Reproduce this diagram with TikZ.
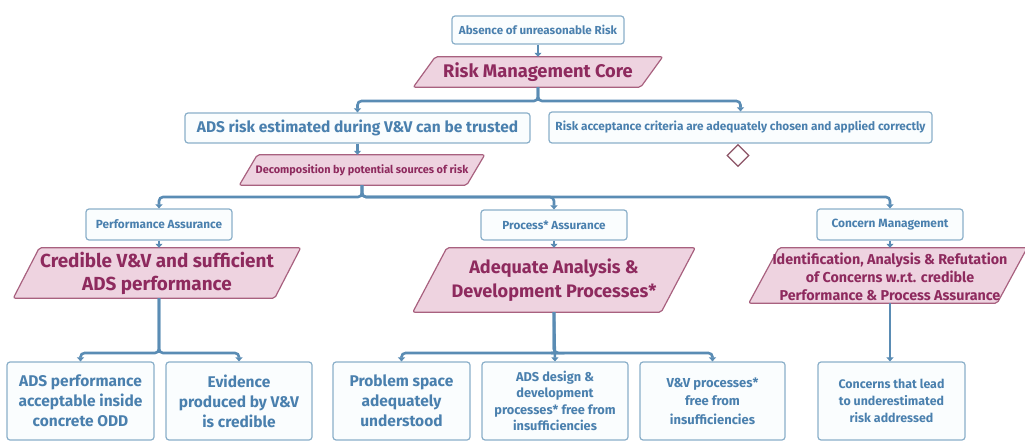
\documentclass[tikz,border=0pt]{standalone}
\usepackage{fontspec}
\setmainfont{Fira Sans}
\usetikzlibrary{arrows.meta,shapes.geometric}
\definecolor{bxborder}{HTML}{8AAFC9}
\definecolor{bxtext}{HTML}{4A80AE}
\definecolor{bxfill}{HTML}{FAFDFE}
\definecolor{pgfillc}{HTML}{EED3E0}
\definecolor{pgborder}{HTML}{A8617F}
\definecolor{pgtext}{HTML}{8E2A5E}
\definecolor{conn}{HTML}{5A8CB4}
\definecolor{dmd}{HTML}{8C5466}
\tikzset{
  bx/.style={draw=bxborder, fill=bxfill, line width=1.2pt, rounded corners=3pt,
    text=bxtext, font=\bfseries, align=center, inner sep=0pt},
  pgd/.style={draw=pgborder, fill=pgfillc, line width=1.2pt, rounded corners=2pt},
  pgt/.style={text=pgtext, font=\bfseries, align=center, inner sep=0pt},
  cn/.style={draw=conn, line width=2.6pt, rounded corners=4pt,
    -{Triangle[width=7pt,length=4pt]}},
  dm/.style={diamond, draw=dmd, line width=1.2pt, fill=white, minimum width=22pt, minimum height=22pt, inner sep=0pt}
}
% name, cx, cy, total width, height, slant
\newcommand\pgmshape[6]{%
  \node[minimum width={#4pt-#6pt}, minimum height=#5pt, inner sep=0pt] (#1) at (#2,#3) {};
  \draw[pgd] ([xshift={-#6pt/2}]#1.south west) -- ([xshift={#6pt/2}]#1.north west)
    -- ([xshift={#6pt/2}]#1.north east) -- ([xshift={-#6pt/2}]#1.south east) -- cycle;
}
\begin{document}
\begin{tikzpicture}[x=1pt,y=-1pt]
\useasboundingbox (0,0) rectangle (1025,441);
% top
\node[bx, minimum width=172pt, minimum height=28pt, font=\bfseries\fontsize{11.6}{13}\selectfont] (abs) at (538,30) {Absence of unreasonable Risk};
\pgmshape{rmc}{538}{72}{249}{30}{22}
\node[pgt, font=\bfseries\fontsize{18.3}{20}\selectfont] (rmc-t) at (rmc.center) {Risk Management Core};
\node[bx, minimum width=345pt, minimum height=30pt, font=\bfseries\fontsize{15.5}{18}\selectfont] (ads) at (357.5,128) {ADS risk estimated during V\&V can be trusted};
\node[bx, minimum width=383pt, minimum height=31pt, font=\bfseries\fontsize{11.8}{13}\selectfont] (rac) at (740.5,127.5) {Risk acceptance criteria are adequately chosen and applied correctly};
\node[dm] (dia) at (738,155.5) {};
\pgmshape{dec}{362}{170}{245}{30}{18}
\node[pgt, font=\bfseries\fontsize{10.9}{13}\selectfont] (dec-t) at (dec.center) {Decomposition by potential sources of risk};
% second level
\node[bx, minimum width=146pt, minimum height=31pt, font=\bfseries\fontsize{11.8}{13}\selectfont] (pa) at (159,224.5) {Performance Assurance};
\node[bx, minimum width=146pt, minimum height=30pt, font=\bfseries\fontsize{11.7}{13}\selectfont] (pra) at (554,225) {Process* Assurance};
\node[bx, minimum width=146pt, minimum height=31pt, font=\bfseries\fontsize{11.9}{13}\selectfont] (cm) at (890,224.5) {Concern Management};
% parallelograms
\pgmshape{crd}{157}{273}{287}{50}{26}
\node[pgt, font=\bfseries\fontsize{18.9}{23}\selectfont] (crd-t) at (crd.center) {Credible V\&V and sufficient\\ADS performance};
\pgmshape{ade}{554}{280}{282}{64}{34}
\node[pgt, font=\bfseries\fontsize{18.1}{24}\selectfont] (ade-t) at (ade.center) {Adequate Analysis \&\\Development Processes*};
\pgmshape{idn}{888}{275.5}{278}{55}{30}
\node[pgt, font=\bfseries\fontsize{14.3}{18.3}\selectfont] (idn-t) at (890,277) {Identification, Analysis \& Refutation\\of Concerns w.r.t. credible\\Performance \& Process Assurance};
% bottom
\tikzset{bt/.style={bx, minimum height=78pt, font=\bfseries\fontsize{15.5}{20}\selectfont}}
\node[bt, minimum width=147pt] (b1) at (80.5,401) {ADS performance\\acceptable inside\\concrete ODD};
\node[bt, minimum width=146pt] (b2) at (239,401) {Evidence\\produced by V\&V\\is credible};
\node[bt, minimum width=137pt] (b3) at (401.5,401) {Problem space\\adequately\\understood};
\node[bt, minimum width=146pt, font=\bfseries\fontsize{12.8}{16.5}\selectfont] (b4) at (555,401) {ADS design \&\\development\\processes* free from\\insufficiencies};
\node[bt, minimum width=145pt, font=\bfseries\fontsize{13}{18.5}\selectfont] (b5) at (712.5,401) {V\&V processes*\\free from\\insufficiencies};
\node[bt, minimum width=147pt, font=\bfseries\fontsize{12.4}{17}\selectfont] (b6) at (891.5,401) {Concerns that lead\\to underestimated\\risk addressed};
% connectors
\draw[cn] (abs.south) -- (rmc.north);
\draw[cn] (rmc.south) |- (538,101) -| (ads.north);
\draw[cn] (rmc.south) |- (538,101) -| (rac.north);
\draw[cn] (ads.south) -- (dec.north -| ads.south);
\draw[cn] (dec.south) |- (362,197) -| (pa.north);
\draw[cn] (dec.south) |- (362,197) -| (pra.north);
\draw[cn] (dec.south) |- (362,197) -| (cm.north);
\draw[cn] (pa.south) -- (crd.north -| pa.south);
\draw[cn] (pra.south) -- (ade.north);
\draw[cn] (cm.south) -- (idn.north -| cm.south);
\draw[cn] (crd.south -| 159,0) |- (159,353) -| (b1.north);
\draw[cn] (crd.south -| 159,0) |- (159,353) -| (b2.north);
\draw[cn] (ade.south) |- (555,353) -| (b3.north);
\draw[cn] (ade.south) -- (b4.north);
\draw[cn] (ade.south) |- (555,353) -| (b5.north);
\draw[cn] (idn.south -| 890,0) -- (b6.north -| 890,0);
\end{tikzpicture}
\end{document}
